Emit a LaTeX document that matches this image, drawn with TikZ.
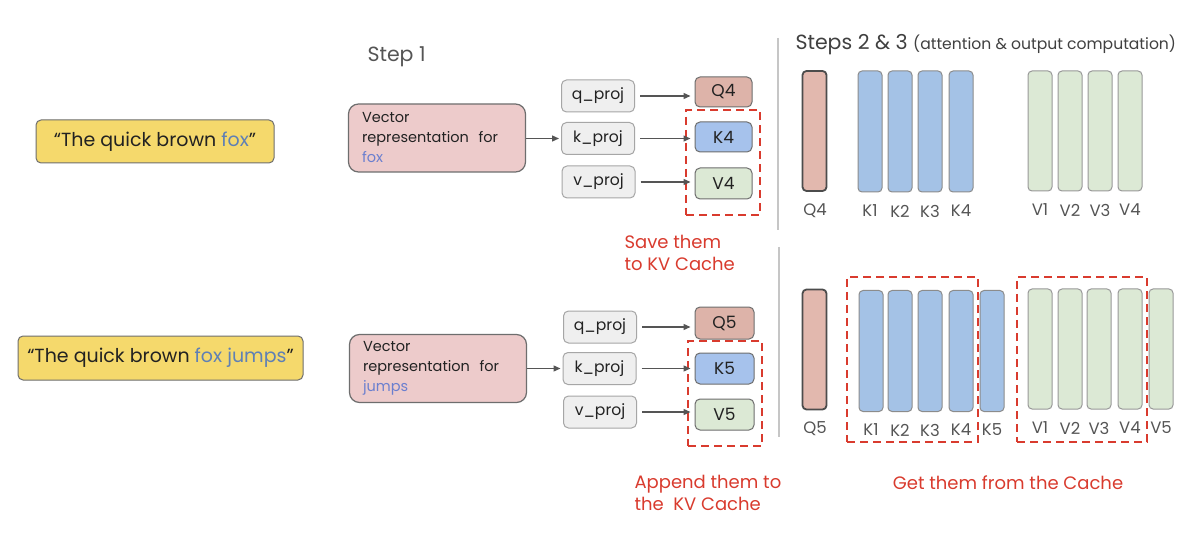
\documentclass[tikz,border=0pt]{standalone}
\usepackage{fontspec}
\setmainfont{Poppins}
\usetikzlibrary{arrows.meta}
\definecolor{qyellow}{HTML}{F5D96C}
\definecolor{foxblue}{HTML}{5F80B5}
\definecolor{vecblue}{HTML}{6B7FCF}
\definecolor{vecpink}{HTML}{EDCBCB}
\definecolor{projgray}{HTML}{EFEFEF}
\definecolor{qfill}{HTML}{DDB3A9}
\definecolor{kfill}{HTML}{A6C2EC}
\definecolor{vfill}{HTML}{DCE9D5}
\definecolor{qbar}{HTML}{E2B8AE}
\definecolor{kbar}{HTML}{A4C2E6}
\definecolor{redc}{HTML}{D93B2E}
\definecolor{edge}{HTML}{6E6E6E}
\definecolor{textc}{HTML}{222222}
\definecolor{labc}{HTML}{555555}
\tikzset{
  quote/.style={draw=edge, line width=1pt, fill=qyellow, rounded corners=5pt, font=\fontsize{19}{23}\selectfont, text=textc},
  vecbox/.style={draw=edge, line width=1.2pt, fill=vecpink, rounded corners=10pt, minimum width=177pt, minimum height=68pt, align=left, text width=150pt, font=\fontsize{14.5}{20}\selectfont, text=textc},
  proj/.style={draw=gray!70, line width=1pt, fill=projgray, rounded corners=5pt, minimum width=73pt, minimum height=32pt, font=\fontsize{15.6}{18}\selectfont, text=textc},
  outbox/.style={draw=edge, line width=1pt, rounded corners=5pt, minimum width=57pt, minimum height=31pt, font=\fontsize{17}{20}\selectfont, text=textc},
  cache/.style={draw=redc, line width=1.8pt, dash pattern=on 8pt off 5pt},
  arr/.style={draw=labc, line width=1.3pt, -{Triangle[length=7pt,width=6pt]}},
  qb/.style={draw=black!70, line width=1.8pt, fill=qbar, rounded corners=4pt, minimum width=24pt, minimum height=120pt, inner sep=0pt},
  kb/.style={draw=black!45, line width=1pt, fill=kbar, rounded corners=4pt, minimum width=24pt, minimum height=121pt, inner sep=0pt},
  vb/.style={draw=black!40, line width=1pt, fill=vfill, rounded corners=4pt, minimum width=24pt, minimum height=120pt, inner sep=0pt},
  lab/.style={font=\fontsize{16.5}{20}\selectfont, text=labc},
  redtxt/.style={font=\fontsize{18}{22}\selectfont, text=redc, align=left},
  sep/.style={draw=gray!45, line width=1.5pt}
}
\begin{document}
\begin{tikzpicture}[x=1pt,y=-1pt]
\fill[white] (0,0) rectangle (1200,540);
\useasboundingbox (0,0) rectangle (1200,540);

% sentences
\node[quote, minimum width=238pt, minimum height=43pt] (s1) at (155,141.5) {“The quick brown \textcolor{foxblue}{fox}”};
\node[quote, minimum width=285pt, minimum height=44pt] (s2) at (160.5,358) {“The quick brown \textcolor{foxblue}{fox jumps}”};

% titles
\node[anchor=west, font=\fontsize{20.5}{24}\selectfont, text=labc] (st1) at (364,57) {Step 1};
\node[anchor=west, font=\fontsize{20.5}{24}\selectfont, text=black!75] (st23) at (792,45) {Steps 2 \& 3 {\fontsize{15.6}{18}\selectfont(attention \& output computation)}};

% separators
\coordinate (sa1) at (778,38); \coordinate (sa2) at (778,230);
\coordinate (sb1) at (779,247); \coordinate (sb2) at (779,437);
\draw[sep] (sa1) -- (sa2);
\draw[sep] (sb1) -- (sb2);

% ---- step 1, top
\node[vecbox] (vec1) at (437,138) {Vector\\representation\ \ for\\\textcolor{vecblue}{fox}};
\node[proj] (q1) at (598,96) {q\_proj};
\node[proj] (k1) at (598,138.5) {k\_proj};
\node[proj] (v1) at (598.5,182) {v\_proj};
\node[outbox, fill=qfill, minimum height=30pt] (Q4) at (723.5,92) {Q4};
\node[outbox, fill=kfill, minimum height=30pt] (K4) at (723.5,137) {K4};
\node[outbox, fill=vfill] (V4) at (723.5,183.5) {V4};
\node[cache, minimum width=74pt, minimum height=105pt] (c1) at (723,162.5) {};
\draw[arr, shorten >=2pt] (vec1.east |- k1.west) -- (k1.west);
\draw[arr, shorten <=5pt, shorten >=4pt] (q1.east) -- (Q4.west |- q1.east);
\draw[arr, shorten <=5pt, shorten >=4pt] (k1.east) -- (K4.west |- k1.east);
\draw[arr, shorten <=5pt, shorten >=4pt] (v1.east) -- (V4.west |- v1.east);
\node[redtxt, anchor=north west] (save) at (621,232) {Save them\\to KV Cache};

% ---- step 1, bottom
\node[vecbox] (vec2) at (438,368.5) {Vector\\representation\ \ for\\\textcolor{vecblue}{jumps}};
\node[proj] (q2) at (600,327) {q\_proj};
\node[proj] (k2) at (599.5,368.5) {k\_proj};
\node[proj] (v2) at (600,412) {v\_proj};
\node[outbox, fill=qfill, minimum width=59pt, minimum height=32pt] (Q5) at (724.5,323) {Q5};
\node[outbox, fill=kfill, minimum width=59pt] (K5) at (724.5,368.5) {K5};
\node[outbox, fill=vfill, minimum width=59pt] (V5) at (724.5,414.5) {V5};
\node[cache, minimum width=74pt, minimum height=105pt] (c2) at (725,393.5) {};
\draw[arr, shorten >=2pt] (vec2.east |- k2.west) -- (k2.west);
\draw[arr, shorten <=5pt, shorten >=4pt] (q2.east) -- (Q5.west |- q2.east);
\draw[arr, shorten <=5pt, shorten >=4pt] (k2.east) -- (K5.west |- k2.east);
\draw[arr, shorten <=5pt, shorten >=4pt] (v2.east) -- (V5.west |- v2.east);
\node[redtxt, anchor=north west] (append) at (631,472) {Append them to\\the\ \ KV Cache};

% ---- steps 2 & 3, top
\node[qb] (tq) at (814.5,131) {};
\node[lab] (ltq) at (815,211) {Q4};
\foreach \x [count=\i] in {870,900,930,961}{
  \node[kb] (tk\i) at (\x,131.5) {};
  \node[lab] (ltk\i) at (\x,211) {K\i};
}
\foreach \x [count=\i] in {1040,1070,1100,1130}{
  \node[vb] (tv\i) at (\x,131) {};
  \node[lab] (ltv\i) at (\x,210) {V\i};
}

% ---- steps 2 & 3, bottom
\node[qb] (bq) at (814.5,349.5) {};
\node[lab] (lbq) at (815,429) {Q5};
\foreach \x [count=\i] in {871,900,930,961,992}{
  \node[kb] (bk\i) at (\x,351) {};
  \node[lab] (lbk\i) at (\x,430) {K\i};
}
\foreach \x [count=\i] in {1040,1070,1099,1130,1161}{
  \node[vb] (bv\i) at (\x,349) {};
  \node[lab] (lbv\i) at (\x,428) {V\i};
}
\node[cache, minimum width=131pt, minimum height=165pt] (ck) at (912.5,359.5) {};
\node[cache, minimum width=130pt, minimum height=165pt] (cv) at (1082,359.5) {};
\node[redtxt] (get) at (1008,483) {Get them from the Cache};
\end{tikzpicture}
\end{document}
